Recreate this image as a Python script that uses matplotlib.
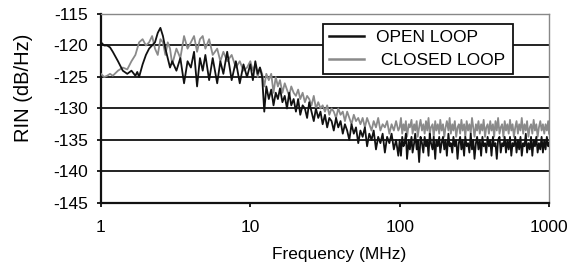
import numpy as np
import matplotlib
matplotlib.use("Agg")
import matplotlib.pyplot as plt
from matplotlib.ticker import FixedLocator, NullLocator

plt.rcParams['font.family'] = ['Liberation Sans', 'DejaVu Sans']

# frequency points (MHz), shared by both traces
freq = [1.0, 1.05, 1.1, 1.15, 1.2, 1.3, 1.4, 1.5, 1.6, 1.7, 1.75, 1.8, 1.9, 2.0,
        2.1, 2.2, 2.3, 2.4, 2.5, 2.6, 2.7, 2.8, 2.9, 3.0, 3.2, 3.4, 3.6, 3.8,
        4.0, 4.2, 4.4, 4.6, 4.8, 5.0, 5.3, 5.6, 6.0, 6.3, 6.6, 7.0, 7.5, 8.0,
        8.5, 9.0, 9.5,
        10, 10.4, 10.8, 11.2, 11.6, 12, 12.4, 12.8, 13.3, 13.8,
        14.3, 14.8, 15.3, 15.8, 16.4, 17, 17.6, 18.2, 18.8, 19.5,
        20.2, 20.9, 21.6, 22.4, 23.2, 24, 24.8, 25.7, 26.6, 27.5,
        28.5, 29.5, 30.5, 31.6, 32.7, 33.8, 35, 36.2, 37.5, 38.8,
        40.2, 41.6, 43, 44.5, 46, 47.6, 49.3, 51, 52.8, 54.6,
        56.5, 58.5, 60.5, 62.6, 64.8, 67, 69.4, 71.8, 74.3, 76.9,
        79.6, 82.4, 85.3, 88.3, 91.4, 94.6, 97.9,
        100, 102, 104, 106, 108, 110, 112, 115, 117, 120,
        122, 125, 127, 130, 132, 135, 138, 141, 144, 147,
        150, 153, 156, 159, 162, 166, 169, 173, 176, 180,
        184, 187, 191, 195, 199, 203, 207, 212, 216, 220,
        225, 229, 234, 239, 244, 249, 254, 259, 264, 270,
        275, 281, 287, 293, 299, 305, 311, 317, 324, 330,
        337, 344, 351, 358, 365, 373, 380, 388, 396, 404,
        412, 421, 429, 438, 447, 456, 466, 475, 485, 495,
        505, 515, 526, 537, 548, 559, 570, 582, 594, 606,
        619, 631, 644, 657, 671, 685, 699, 713, 728, 743,
        758, 773, 789, 805, 822, 839, 856, 874, 892, 910,
        929, 948, 967, 987, 1000]

# open loop RIN (dB/Hz)
open_loop = [-119.5, -120, -120, -120.3, -121, -122.5, -124, -124.5, -124, -124.8,
             -124.2, -125, -123, -121.5, -120.5, -120, -119.5, -118, -117.2, -118.5,
             -120.5, -122, -123.5, -122.5, -124, -122, -126, -122.5, -123.5, -121,
             -126.5, -122, -124, -121.5, -125.5, -122, -126, -122.5, -124.5, -121,
             -125.5, -122.5, -126, -123, -125,
             -123, -125.5, -122.5, -124.5, -123.5, -125, -130.5, -126.5, -128.5, -127,
             -129.5, -127.5, -128.5, -126.8, -129, -128, -130, -127.5, -129.5, -128.5,
             -130.5, -128.5, -131, -129.5, -130, -131.5, -129, -130.5, -132, -130,
             -131.5, -130.5, -132.5, -131, -133, -131.5, -132, -133.5, -131.5, -133,
             -132, -134, -132.5, -133.5, -135, -132.5, -134, -133, -135.5, -133.5,
             -134.5, -133, -136, -134, -135, -133.5, -136.5, -134.5, -135.5, -134,
             -137, -134.5, -135.5, -134, -136.5, -135, -137.5,
             -135, -137.5, -134.5, -136, -135.5, -134, -138, -135, -136.5, -134.5,
             -137, -135.5, -134, -136.5, -135, -138.5, -134.5, -135.5, -137, -134.5,
             -136, -135, -137.5, -134, -135.5, -136.5, -134.5, -138, -135, -136,
             -134.5, -137, -135.5, -134.5, -136.5, -135, -137.5, -134, -136, -135.5,
             -137, -134.5, -136, -135, -138, -135.5, -134.5, -136.5, -135, -137.5,
             -134.5, -136, -135.5, -137, -134, -136.5, -135, -138, -135.5, -134.5,
             -136.5, -135, -137.5, -134.5, -136, -135.5, -137, -134.5, -136, -135,
             -137.5, -134.5, -136, -135.5, -138, -135, -134.5, -137, -135.5, -136,
             -134.5, -137, -135, -136.5, -134.5, -137.5, -135.5, -136, -134.5, -137,
             -135, -136.5, -134.5, -137.5, -135.5, -136, -134, -137, -135.5, -136.5,
             -134.5, -137.5, -135, -136, -134.5, -137, -135.5, -136.5, -134.5, -137,
             -135, -136.5, -134.5, -136, -135.5]

# closed loop RIN (dB/Hz)
closed_loop = [-124.5, -125, -124.8, -124.5, -124.8, -124, -123.5, -123.8, -122.5, -121.5,
               -120.5, -119.5, -119, -120, -119.5, -118.5, -120.5, -121.5, -119, -119.5,
               -121.5, -119.5, -120.5, -123, -120.5, -122, -118.5, -120.5, -119.5, -118.5,
               -121, -119, -118.5, -120.5, -119, -121.5, -120.5, -122.5, -121, -122.5,
               -121.5, -123.5, -122.5, -124, -123.5,
               -122.5, -124, -123, -125, -123.5, -124.5, -126.5, -124.5, -125.5, -124.5,
               -127.5, -125, -126.5, -125.5, -127.5, -126, -127, -128, -126.5, -127.5,
               -128, -127, -128.5, -127.5, -129, -128, -128.5, -129.5, -128, -130,
               -129, -130, -129.5, -130.5, -129.5, -131, -130, -130.5, -131.5, -130,
               -131, -130.5, -132, -130.5, -131.5, -132.5, -131, -132, -131.5, -132.5,
               -131.5, -133, -131.5, -132.5, -133.5, -132, -133, -131.5, -133.5, -132.5,
               -133, -132, -134, -132.5, -133.5, -132, -133.5,
               -133, -131.5, -134, -132.5, -133.5, -132, -134.5, -132.5, -133, -131.8,
               -134, -132.5, -133.5, -132, -134.5, -133, -131.8, -133.5, -132.5, -134,
               -132, -133.5, -131.5, -134, -133, -132.5, -134.5, -132, -133.5, -132.5,
               -134, -131.8, -133.5, -132.5, -134.5, -133, -132, -133.5, -131.5, -134,
               -132.5, -133.5, -132, -134.5, -133, -132.5, -134, -131.8, -133.5, -132.5,
               -134.5, -132, -133.5, -132.5, -134, -131.5, -133, -134.5, -132.5, -133.5,
               -132, -134, -132.5, -133.5, -131.8, -134.5, -133, -132.5, -134, -132,
               -133.5, -132.5, -134.5, -132, -133.5, -131.5, -134, -133, -132.5, -134.5,
               -132, -133.5, -132.5, -134, -131.8, -133.5, -132.5, -134.5, -133, -132,
               -134, -132.5, -133.5, -131.5, -134, -132.5, -133.5, -132, -134.5, -133,
               -132.5, -134, -131.8, -133.5, -132.5, -134.5, -133, -132, -133.5, -132.5,
               -134, -132.5, -133.5, -132, -134]

fig = plt.figure(figsize=(5.85, 2.69), dpi=100)
ax = fig.add_axes([0.1726, 0.2454, 0.7659, 0.7026])

ax.plot(freq, closed_loop, color='#8a8a8a', lw=1.3, label=' CLOSED LOOP', zorder=3)
ax.plot(freq, open_loop, color='#111111', lw=1.3, label='OPEN LOOP', zorder=4)

ax.set_xscale('log')
ax.set_xlim(1, 1000)
ax.set_ylim(-145, -115)
ax.xaxis.set_major_locator(FixedLocator([1, 10, 100, 1000]))
ax.xaxis.set_minor_locator(NullLocator())
ax.set_xticklabels(['1', '10', '100', '1000'])
ax.set_yticks(np.arange(-145, -114, 5))
ax.set_yticklabels([str(v) for v in range(-145, -114, 5)])
ax.yaxis.grid(True, color='#111111', lw=1.3)
ax.set_axisbelow(True)

for s in ['left', 'bottom']:
    ax.spines[s].set_linewidth(1.6)
    ax.spines[s].set_color('#111111')
for s in ['top', 'right']:
    ax.spines[s].set_linewidth(1.0)
    ax.spines[s].set_color('#888888')

ax.tick_params(axis='both', labelsize=12.5, direction='out', length=3, width=1.3,
               color='#111111')
ax.tick_params(axis='y', pad=6)
ax.tick_params(axis='x', pad=9)

ax.set_xlabel('Frequency (MHz)', fontsize=12.5)
ax.xaxis.set_label_coords(0.532, -0.232)
ax.set_ylabel('RIN (dB/Hz)', fontsize=14.5)
ax.yaxis.set_label_coords(-0.152, 0.611)

handles, labels = ax.get_legend_handles_labels()
leg = ax.legend(handles[::-1], labels[::-1], loc='upper left',
                bbox_to_anchor=(0.496, 0.693, 0.424, 0.254),
                mode='expand', fontsize=12.5, fancybox=False, framealpha=1,
                edgecolor='#111111', handlelength=2.0, handletextpad=0.7,
                borderpad=0.35, labelspacing=0.45, borderaxespad=0)
leg.get_frame().set_linewidth(1.3)
for line in leg.get_lines():
    line.set_linewidth(1.8)

fig.savefig('out.png', dpi=100)
